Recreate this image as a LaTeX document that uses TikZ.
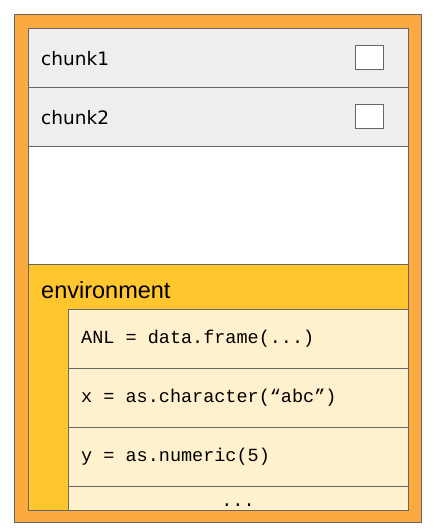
\documentclass[tikz,border=0pt]{standalone}
\usepackage{fontspec}
\setmainfont{Liberation Sans}
\newfontfamily\chunkfont{DejaVu Sans}
\setmonofont{Liberation Mono}
\definecolor{outerorange}{HTML}{FBAA40}
\definecolor{envyellow}{HTML}{FFC62E}
\definecolor{codecream}{HTML}{FFF1CD}
\definecolor{rowgrey}{HTML}{EEEEEE}
\definecolor{edgegrey}{HTML}{666666}
\begin{document}
\begin{tikzpicture}[x=1pt,y=-1pt,
  box/.style={draw=edgegrey,line width=1.4pt,rectangle,inner sep=0pt,anchor=north west},
  chunkrow/.style={box,fill=rowgrey,minimum width=380pt,minimum height=59pt},
  codebox/.style={box,fill=codecream,minimum width=340pt},
  tick/.style={box,fill=white,minimum width=28pt,minimum height=24pt},
  chunklabel/.style={anchor=base west,inner sep=0pt,font=\chunkfont\fontsize{18.5}{20}\selectfont},
  codelabel/.style={anchor=west,inner sep=0pt,font=\ttfamily\fontsize{18.5}{20}\selectfont}]
\useasboundingbox (0,0) rectangle (437,531);
\node[box,fill=outerorange,minimum width=407pt,minimum height=508pt] (outer) at (14,14) {};
\node[box,fill=white,minimum width=380pt,minimum height=482pt] (inner) at (28,28) {};
\node[chunkrow] (c1) at (28,28) {};
\node[chunkrow] (c2) at (28,87) {};
\node[box,fill=envyellow,minimum width=380pt,minimum height=246pt] (env) at (28,264) {};
\node[chunklabel] (c1t) at (41,65) {chunk1};
\node[chunklabel] (c2t) at (41,124) {chunk2};
\node[tick] (b1) at (355,45) {};
\node[tick] (b2) at (355,104) {};
\node[anchor=base west,inner sep=0pt,font=\fontsize{23.5}{26}\selectfont] (envt) at (41,298.5) {environment};
\node[codebox,minimum height=59pt] (r1) at (68,309) {};
\node[codebox,minimum height=59pt] (r2) at (68,368) {};
\node[codebox,minimum height=59pt] (r3) at (68,427) {};
\node[codebox,minimum height=24pt] (r4) at (68,486) {};
\node[codelabel] (t1) at (81,339) {ANL = data.frame(...)};
\node[codelabel] (t2) at (81,398) {x = as.character(“abc”)};
\node[codelabel] (t3) at (81,457) {y = as.numeric(5)};
\node[anchor=base,inner sep=0pt,font=\ttfamily\fontsize{18.5}{20}\selectfont] (t4) at (238,506) {...};
\end{tikzpicture}
\end{document}
